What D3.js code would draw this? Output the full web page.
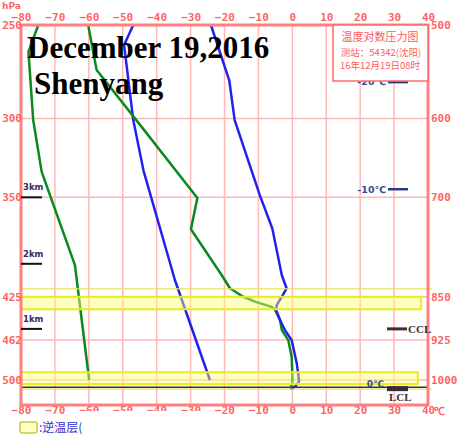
<!DOCTYPE html>
<html>
<head>
<meta charset="utf-8">
<script src="https://cdn.jsdelivr.net/npm/d3@7"></script>
<style>
  body { margin: 0; background: #fff; }
  svg { display: block; }
</style>
</head>
<body>
<script>
(function () {
  'use strict'

  // pressure levels (hPa) on the right axis; left axis shows half of them
  var pressureTicks = [500, 600, 700, 850, 925, 1000]
  var leftLabels = ['250', '300', '350', '425', '462', '500']
  var rightLabels = ['500', '600', '700', '850', '925', '1000']
  var tempTicks = [-80, -70, -60, -50, -40, -30, -20, -10, 0, 10, 20, 30, 40]

  // [pressure, temperature]
  var temperature = [
    [500, -24.0], [557, -18.6], [602, -17.0], [697, -9.6], [744, -5.9],
    [815, -3.1], [836, -1.7], [850, -3.1], [864, -4.6], [872, -4.8],
    [890, -3.6], [907, -2.2], [925, -0.2], [968, 1.3], [987, 1.7],
    [1003, 2.0], [1013, 0.8], [1018, -0.5]
  ]
  var dewpoint = [
    [500, -60.2], [546, -57.7], [600, -46.4], [701, -28.0], [745, -29.9],
    [815, -20.8], [836, -18.4], [850, -14.5], [858, -11.0], [867, -6.1],
    [872, -5.1], [890, -3.6], [907, -3.1], [925, -1.2], [956, -0.2],
    [987, 0.0], [1007, 0.0], [1017, -0.7]
  ]
  var stateCurve = [
    [500, -46.9], [520, -49.6], [602, -46.9], [664, -43.9], [823, -34.6], [1000, -24.3]
  ]
  var dewCurve = [
    [500, -74.9], [527, -77.8], [602, -76.4], [666, -73.9], [799, -64.1], [1000, -59.9]
  ]

  // inversion layers [top, bottom] in hPa
  var inversions = [[850, 871], [985, 1008]]
  var inversionEdges = [837, 1018]
  var surfacePressure = 1014

  var kmLabels = ['3km', '2km', '1km']
  var kmPressures = [700, 797, 905]
  var isoLabels = ['-20℃', '-10℃']
  var isoPressures = [559, 689]
  var cclPressure = 905
  var lclPressure = 1017

  var w = 457
  var h = 438
  var pink = '#ff6464'
  var gridColor = '#ffb8b8'

  var x = d3.scaleLinear().domain([-80, 40]).range([21, 428])
  var y = d3.scaleLog().domain([500, 1050]).range([25, 405])

  var svg = d3.select('body').append('svg')
    .attr('width', w)
    .attr('height', h)

  svg.append('rect').attr('width', w).attr('height', h).attr('fill', '#fff')

  // grid
  svg.append('g').selectAll('line')
    .data(tempTicks.slice(1, -1))
    .enter().append('line')
      .attr('x1', function (d) { return x(d) })
      .attr('x2', function (d) { return x(d) })
      .attr('y1', y(500))
      .attr('y2', y(1050))
      .attr('stroke', gridColor)
      .attr('stroke-width', 1.5)
  svg.append('g').selectAll('line')
    .data(pressureTicks.slice(1))
    .enter().append('line')
      .attr('x1', x(-80))
      .attr('x2', x(40))
      .attr('y1', function (d) { return y(d) })
      .attr('y2', function (d) { return y(d) })
      .attr('stroke', gridColor)
      .attr('stroke-width', 1.5)

  // surface line
  svg.append('line')
    .attr('x1', x(-80)).attr('x2', x(40))
    .attr('y1', y(surfacePressure)).attr('y2', y(surfacePressure))
    .attr('stroke', '#333').attr('stroke-width', 1.5)

  var line = d3.line()
    .x(function (d) { return x(d[1]) })
    .y(function (d) { return y(d[0]) })

  var curves = [
    { data: dewCurve, color: '#0a8a1e' },
    { data: stateCurve, color: '#2222ee' },
    { data: dewpoint, color: '#0a8a1e' },
    { data: temperature, color: '#2222ee' }
  ]
  svg.append('g').selectAll('path')
    .data(curves)
    .enter().append('path')
      .attr('d', function (d) { return line(d.data) })
      .attr('fill', 'none')
      .attr('stroke', function (d) { return d.color })
      .attr('stroke-width', 2.5)
      .attr('stroke-linejoin', 'round')

  // inversion layers
  svg.append('g').selectAll('rect')
    .data(inversions)
    .enter().append('rect')
      .attr('x', x(-80))
      .attr('y', function (d) { return y(d[0]) })
      .attr('width', function (d, i) { return x(i === 0 ? 38 : 37) - x(-80) })
      .attr('height', function (d) { return y(d[1]) - y(d[0]) })
      .attr('fill', 'rgba(255,255,120,0.45)')
      .attr('stroke', '#eaea20')
      .attr('stroke-width', 2)
  svg.append('g').selectAll('line')
    .data(inversionEdges)
    .enter().append('line')
      .attr('x1', x(-80)).attr('x2', x(40) + 4)
      .attr('y1', function (d) { return y(d) })
      .attr('y2', function (d) { return y(d) })
      .attr('stroke', '#e6e650')
      .attr('stroke-width', 1.2)

  // border
  svg.append('rect')
    .attr('x', x(-80)).attr('y', y(500))
    .attr('width', x(40) - x(-80)).attr('height', y(1050) - y(500))
    .attr('fill', 'none')
    .attr('stroke', '#ff8080')
    .attr('stroke-width', 3)

  // axes
  function styleAxis (g) {
    g.select('.domain').remove()
    g.selectAll('text')
      .attr('fill', pink)
      .style('font-family', '"DejaVu Sans Mono", monospace')
      .style('font-size', '11px')
      .style('font-weight', 'bold')
  }
  svg.append('g')
    .attr('transform', 'translate(0,' + y(500) + ')')
    .call(d3.axisTop(x).tickValues(tempTicks).tickSize(0).tickPadding(4).tickFormat(d3.format('d')))
    .call(styleAxis)
  svg.append('g')
    .attr('transform', 'translate(0,' + y(1050) + ')')
    .call(d3.axisBottom(x).tickValues(tempTicks).tickSize(0).tickPadding(1).tickFormat(d3.format('d')))
    .call(styleAxis)
  svg.append('g')
    .attr('transform', 'translate(' + (x(-80) + 1) + ',0)')
    .call(d3.axisLeft(y).tickValues(pressureTicks).tickSize(0).tickPadding(0)
      .tickFormat(function (d, i) { return leftLabels[i] }))
    .call(styleAxis)
  svg.append('g')
    .attr('transform', 'translate(' + x(40) + ',0)')
    .call(d3.axisRight(y).tickValues(pressureTicks).tickSize(0).tickPadding(3)
      .tickFormat(function (d, i) { return rightLabels[i] }))
    .call(styleAxis)

  svg.append('text')
    .attr('x', x(40) + 6).attr('y', y(1050) + 10)
    .attr('fill', pink)
    .style('font-family', '"DejaVu Sans Mono", monospace')
    .style('font-size', '11px').style('font-weight', 'bold')
    .text('℃')
  svg.append('text')
    .attr('x', 2).attr('y', 9)
    .attr('fill', pink)
    .style('font-family', '"DejaVu Sans", sans-serif')
    .style('font-size', '9px').style('font-weight', 'bold')
    .text('hPa')

  // legend background hides part of the bottom labels
  svg.append('rect')
    .attr('x', 76).attr('y', 411).attr('width', 138).attr('height', 12)
    .attr('fill', '#fff')

  // height markers
  var km = svg.append('g').selectAll('g')
    .data(kmPressures)
    .enter().append('g')
  km.append('line')
    .attr('x1', x(-80)).attr('x2', x(-80) + 21)
    .attr('y1', function (d) { return y(d) })
    .attr('y2', function (d) { return y(d) })
    .attr('stroke', '#111').attr('stroke-width', 2)
  km.append('text')
    .attr('x', x(-80) + 2)
    .attr('y', function (d) { return y(d) - 7 })
    .attr('fill', '#3a2a5a')
    .style('font-family', '"DejaVu Sans", sans-serif')
    .style('font-size', '8.5px').style('font-weight', 'bold')
    .text(function (d, i) { return kmLabels[i] })

  // isotherm markers
  var iso = svg.append('g').selectAll('g')
    .data(isoPressures)
    .enter().append('g')
  iso.append('line')
    .attr('x1', 388).attr('x2', 408)
    .attr('y1', function (d) { return y(d) })
    .attr('y2', function (d) { return y(d) })
    .attr('stroke', '#2a3a80').attr('stroke-width', 2.5)
  iso.append('text')
    .attr('x', 386)
    .attr('y', function (d) { return y(d) })
    .attr('dy', '0.35em')
    .attr('text-anchor', 'end')
    .attr('fill', '#3a4a90')
    .style('font-family', '"DejaVu Sans", sans-serif')
    .style('font-size', '9.5px').style('font-weight', 'bold')
    .text(function (d, i) { return isoLabels[i] })

  // CCL / LCL
  svg.append('line')
    .attr('x1', 387).attr('x2', 407)
    .attr('y1', y(cclPressure)).attr('y2', y(cclPressure))
    .attr('stroke', '#4a2a2a').attr('stroke-width', 3)
  svg.append('text')
    .attr('x', 408).attr('y', y(cclPressure)).attr('dy', '0.35em')
    .attr('fill', '#3a3030')
    .style('font-family', '"Liberation Serif", serif')
    .style('font-size', '11px').style('font-weight', 'bold')
    .text('CCL')
  svg.append('line')
    .attr('x1', 387).attr('x2', 408)
    .attr('y1', y(lclPressure)).attr('y2', y(lclPressure))
    .attr('stroke', '#3a2a40').attr('stroke-width', 5)
  svg.append('text')
    .attr('x', 389).attr('y', y(lclPressure) + 12)
    .attr('fill', '#3a3030')
    .style('font-family', '"Liberation Serif", serif')
    .style('font-size', '11px').style('font-weight', 'bold')
    .text('LCL')
  svg.append('text')
    .attr('x', 384).attr('y', y(lclPressure) - 2)
    .attr('text-anchor', 'end')
    .attr('fill', '#3a4a90')
    .style('font-family', '"DejaVu Sans", sans-serif')
    .style('font-size', '9px').style('font-weight', 'bold')
    .text('0℃')

  // title
  var title = svg.append('g')
    .style('font-family', '"Liberation Serif", "Times New Roman", serif')
    .style('font-size', '31px')
    .style('font-weight', 'bold')
    .attr('fill', '#000')
  title.append('text').attr('x', 27).attr('y', 58).text('December 19,2016')
  title.append('text').attr('x', 34).attr('y', 94).text('Shenyang')

  // info box
  svg.append('rect')
    .attr('x', 333).attr('y', y(500))
    .attr('width', x(40) - 333).attr('height', 56)
    .attr('fill', '#fff')
    .attr('stroke', '#ff6a6a').attr('stroke-width', 1.5)
  var info = svg.append('g')
    .attr('fill', '#ff5a5a')
    .attr('text-anchor', 'middle')
    .style('font-family', '"Noto Sans CJK SC", sans-serif')
  info.append('text').attr('x', 380).attr('y', 41).style('font-size', '11px').text('温度对数压力图')
  info.append('text').attr('x', 381).attr('y', 56).style('font-size', '9.5px').text('测站：54342(沈阳)')
  info.append('text').attr('x', 380).attr('y', 69).style('font-size', '9.5px').text('16年12月19日08时')

  // legend
  svg.append('rect')
    .attr('x', 20).attr('y', 422).attr('width', 17).attr('height', 11).attr('rx', 2)
    .attr('fill', '#ffffc0').attr('stroke', '#c8c850').attr('stroke-width', 1.5)
  svg.append('text')
    .attr('x', 39).attr('y', 432)
    .attr('fill', '#3030d0')
    .style('font-family', '"Noto Sans CJK SC", sans-serif')
    .style('font-size', '12px')
    .text(':逆温层(')
}())
</script>
</body>
</html>
